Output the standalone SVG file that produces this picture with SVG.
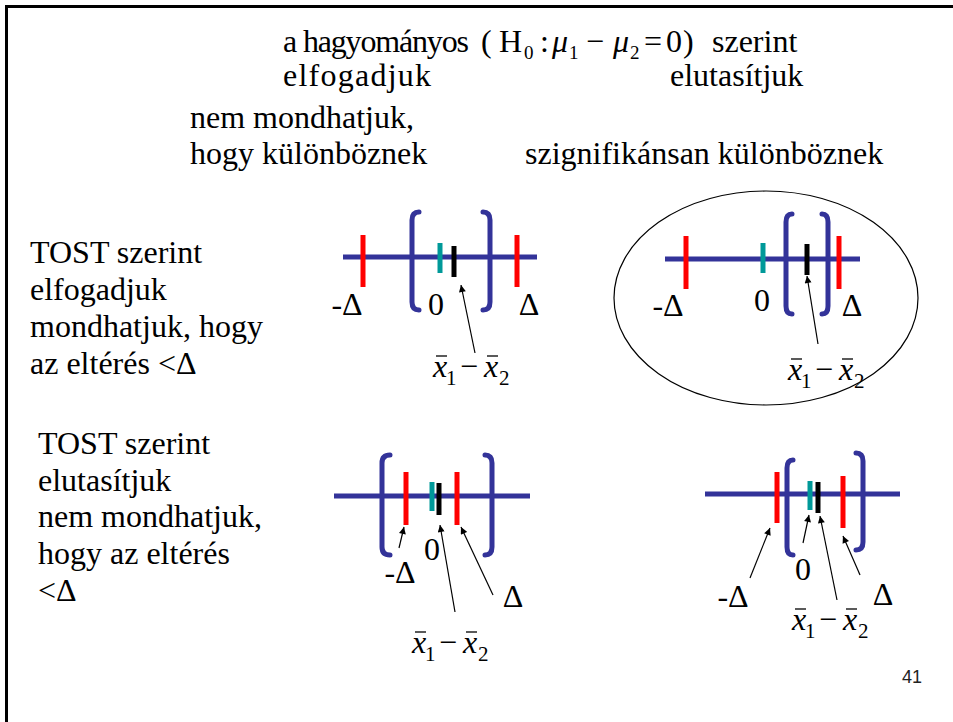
<svg xmlns="http://www.w3.org/2000/svg" width="953" height="722" viewBox="0 0 953 722">
<style>
text{font-family:'Liberation Serif','Times New Roman','DejaVu Serif',serif;font-size:32px;fill:#000}
.mi{font-style:italic}
.sub{font-size:21px}
.hs{font-size:19px}
.mid{text-anchor:middle}
.axis{stroke:#333399;stroke-width:5;fill:none}
.br{stroke:#333399;stroke-width:5;fill:none;stroke-linecap:round}
.red{stroke:#ff0000;stroke-width:5}
.teal{stroke:#009999;stroke-width:5}
.blk{stroke:#000;stroke-width:5}
.bar{stroke:#000;stroke-width:1.3}
.arr{stroke:#000;stroke-width:1.2;fill:none;marker-end:url(#ah)}
text.pg{font-family:'Liberation Sans',Arial,sans-serif;font-size:18px;fill:#222}
</style>
<defs>
<marker id="ah" viewBox="0 0 10 10" refX="10" refY="5" markerWidth="9" markerHeight="7" markerUnits="userSpaceOnUse" orient="auto">
<path d="M0,0 L10,5 L0,10 z" fill="#000"/>
</marker>
</defs>
<rect width="953" height="722" fill="#fff"/>
<g id="frame">
<line x1="6.5" y1="6.5" x2="953" y2="6.5" stroke="#000" stroke-width="3"/>
<line x1="6.5" y1="5" x2="6.5" y2="722" stroke="#000" stroke-width="3"/>
</g>

<g id="heading">
<text x="283" y="52" textLength="186" lengthAdjust="spacing">a hagyományos</text>
<text x="481" y="52">(</text>
<text x="499" y="52">H</text>
<text x="524" y="59" class="hs">0</text>
<text x="540" y="52">:</text>
<text x="552" y="52" class="mi">μ</text>
<text x="569" y="59" class="hs">1</text>
<text x="586" y="52">−</text>
<text x="613" y="52" class="mi">μ</text>
<text x="630" y="59" class="hs">2</text>
<text x="644" y="52">=</text>
<text x="666" y="52">0</text>
<text x="683" y="52">)</text>
<text x="712" y="52">szerint</text>
<text x="283" y="86" textLength="148" lengthAdjust="spacing">elfogadjuk</text>
<text x="670" y="86">elutasítjuk</text>
<text x="190" y="128">nem mondhatjuk,</text>
<text x="190" y="164">hogy különböznek</text>
<text x="525" y="164">szignifikánsan különböznek</text>
</g>

<g id="tost-accept">
<text x="30" y="263">TOST szerint</text>
<text x="30" y="300">elfogadjuk</text>
<text x="30" y="337">mondhatjuk, hogy</text>
<text x="30" y="374">az eltérés &lt;Δ</text>
</g>

<g id="tost-reject">
<text x="38" y="454">TOST szerint</text>
<text x="38" y="491">elutasítjuk</text>
<text x="38" y="527">nem mondhatjuk,</text>
<text x="38" y="564">hogy az eltérés</text>
<text x="38" y="601">&lt;Δ</text>
</g>

<g id="highlight">
<ellipse cx="766" cy="298" rx="152" ry="107" fill="none" stroke="#000" stroke-width="1.2"/>
</g>

<g id="diagram1">
<line class="axis" x1="343" y1="257" x2="537" y2="257"/>
<line class="red" x1="363" y1="235" x2="363" y2="287"/>
<line class="red" x1="517" y1="235" x2="517" y2="287"/>
<line class="teal" x1="440" y1="243" x2="440" y2="273"/>
<line class="blk" x1="454" y1="246" x2="454" y2="277"/>
<path class="br" d="M419,212 Q412,212 412,220 L412,302 Q412,310 419,310"/>
<path class="br" d="M483,212 Q490,212 490,220 L490,302 Q490,310 483,310"/>
<text x="347" y="315" class="mid">-Δ</text>
<text x="436" y="315" class="mid">0</text>
<text x="529" y="315" class="mid">Δ</text>
<text x="433" y="377" class="mi">x</text><text x="446" y="385" class="sub">1</text><text x="460" y="377">−</text><text x="484" y="377" class="mi">x</text><text x="499" y="385" class="sub">2</text>
<line class="bar" x1="436" y1="356" x2="447" y2="356"/><line class="bar" x1="487" y1="356" x2="498" y2="356"/>
</g>

<g id="diagram2">
<line class="axis" x1="665" y1="259" x2="860" y2="259"/>
<line class="red" x1="686" y1="236" x2="686" y2="289"/>
<line class="red" x1="839" y1="236" x2="839" y2="289"/>
<line class="teal" x1="763" y1="243" x2="763" y2="273"/>
<line class="blk" x1="807" y1="244" x2="807" y2="275"/>
<path class="br" d="M792,214 Q786,214 786,222 L786,306 Q786,314 792,314"/>
<path class="br" d="M822,214 Q828,214 828,222 L828,306 Q828,314 822,314"/>
<text x="668" y="316" class="mid">-Δ</text>
<text x="762" y="311" class="mid">0</text>
<text x="852" y="316" class="mid">Δ</text>
<text x="788" y="380" class="mi">x</text><text x="801" y="388" class="sub">1</text><text x="815" y="380">−</text><text x="839" y="380" class="mi">x</text><text x="854" y="388" class="sub">2</text>
<line class="bar" x1="791" y1="359" x2="802" y2="359"/><line class="bar" x1="842" y1="359" x2="853" y2="359"/>
</g>

<g id="diagram3">
<line class="axis" x1="334" y1="496" x2="530" y2="496"/>
<path class="br" d="M390,455 Q382,455 382,463 L382,547 Q382,555 390,555"/>
<path class="br" d="M485,455 Q492,455 492,463 L492,547 Q492,555 485,555"/>
<line class="red" x1="406" y1="472" x2="406" y2="525"/>
<line class="teal" x1="432" y1="482" x2="432" y2="511"/>
<line class="blk" x1="439" y1="483" x2="439" y2="515"/>
<line class="red" x1="457" y1="472" x2="457" y2="525"/>
<text x="400" y="583" class="mid">-Δ</text>
<text x="432" y="560" class="mid">0</text>
<text x="513" y="607" class="mid">Δ</text>
<text x="412" y="653" class="mi">x</text><text x="425" y="661" class="sub">1</text><text x="439" y="653">−</text><text x="463" y="653" class="mi">x</text><text x="478" y="661" class="sub">2</text>
<line class="bar" x1="415" y1="632" x2="426" y2="632"/><line class="bar" x1="466" y1="632" x2="477" y2="632"/>
</g>

<g id="diagram4">
<line class="axis" x1="705" y1="494" x2="900" y2="494"/>
<line class="red" x1="777" y1="472" x2="777" y2="523"/>
<path class="br" d="M793,460 Q787,460 787,468 L787,547 Q787,555 793,555"/>
<line class="teal" x1="810" y1="481" x2="810" y2="510"/>
<line class="blk" x1="818" y1="482" x2="818" y2="513"/>
<line class="red" x1="843" y1="476" x2="843" y2="528"/>
<path class="br" d="M856,453 Q863,453 863,461 L863,542 Q863,550 856,550"/>
<text x="733" y="607" class="mid">-Δ</text>
<text x="803" y="580" class="mid">0</text>
<text x="883" y="605" class="mid">Δ</text>
<text x="792" y="630" class="mi">x</text><text x="805" y="638" class="sub">1</text><text x="819" y="630">−</text><text x="843" y="630" class="mi">x</text><text x="858" y="638" class="sub">2</text>
<line class="bar" x1="795" y1="609" x2="806" y2="609"/><line class="bar" x1="846" y1="609" x2="857" y2="609"/>
</g>

<g id="connectors">
<line class="arr" x1="475" y1="353" x2="461" y2="285"/>
<line class="arr" x1="818" y1="344" x2="807" y2="276"/>
<line class="arr" x1="399" y1="548" x2="404" y2="527"/>
<line class="arr" x1="455" y1="612" x2="440" y2="525"/>
<line class="arr" x1="493" y1="595" x2="461" y2="527"/>
<line class="arr" x1="750" y1="578" x2="770" y2="528"/>
<line class="arr" x1="803" y1="543" x2="809" y2="515"/>
<line class="arr" x1="837" y1="600" x2="820" y2="516"/>
<line class="arr" x1="860" y1="575" x2="843" y2="536"/>
</g>

<text x="902" y="683" class="pg">41</text>
</svg>
